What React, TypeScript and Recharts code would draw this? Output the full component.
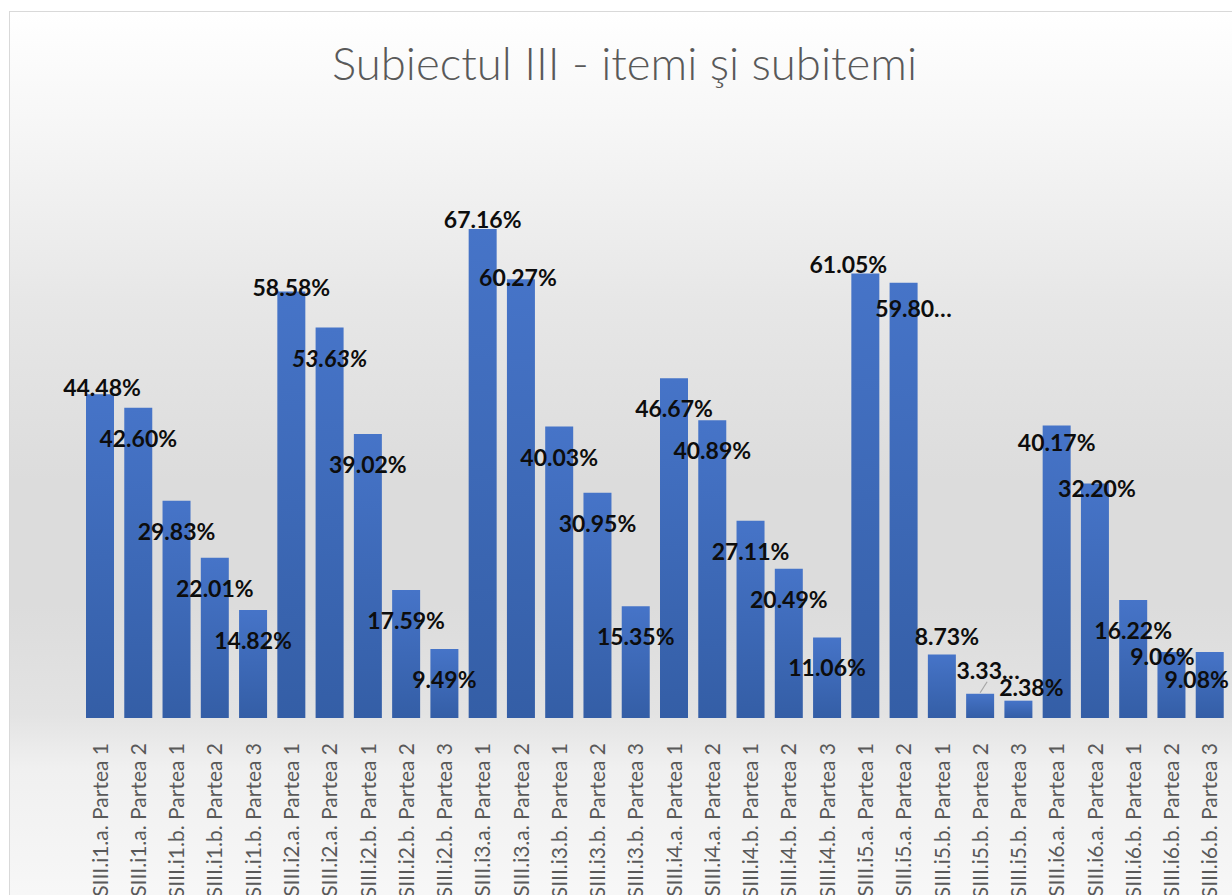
import React from "react";
import { BarChart, Bar, XAxis, YAxis, LabelList } from "recharts";

const categories = [
  "SIII.i1.a. Partea 1", "SIII.i1.a. Partea 2", "SIII.i1.b. Partea 1", "SIII.i1.b. Partea 2", "SIII.i1.b. Partea 3",
  "SIII.i2.a. Partea 1", "SIII.i2.a. Partea 2", "SIII.i2.b. Partea 1", "SIII.i2.b. Partea 2", "SIII.i2.b. Partea 3",
  "SIII.i3.a. Partea 1", "SIII.i3.a. Partea 2", "SIII.i3.b. Partea 1", "SIII.i3.b. Partea 2", "SIII.i3.b. Partea 3",
  "SIII.i4.a. Partea 1", "SIII.i4.a. Partea 2", "SIII.i4.b. Partea 1", "SIII.i4.b. Partea 2", "SIII.i4.b. Partea 3",
  "SIII.i5.a. Partea 1", "SIII.i5.a. Partea 2", "SIII.i5.b. Partea 1", "SIII.i5.b. Partea 2", "SIII.i5.b. Partea 3",
  "SIII.i6.a. Partea 1", "SIII.i6.a. Partea 2", "SIII.i6.b. Partea 1", "SIII.i6.b. Partea 2", "SIII.i6.b. Partea 3",
];

const values = [
  44.48, 42.6, 29.83, 22.01, 14.82,
  58.58, 53.63, 39.02, 17.59, 9.49,
  67.16, 60.27, 40.03, 30.95, 15.35,
  46.67, 40.89, 27.11, 20.49, 11.06,
  61.05, 59.8, 8.73, 3.33, 2.38,
  40.17, 32.2, 16.22, 9.06, 9.08,
];

const labelTexts = [
  "44.48%", "42.60%", "29.83%", "22.01%", "14.82%",
  "58.58%", "53.63%", "39.02%", "17.59%", "9.49%",
  "67.16%", "60.27%", "40.03%", "30.95%", "15.35%",
  "46.67%", "40.89%", "27.11%", "20.49%", "11.06%",
  "61.05%", "59.80…", "8.73%", "3.33…", "2.38%",
  "40.17%", "32.20%", "16.22%", "9.06%", "9.08%",
];

// label placement nudges (dx from bar centre, dy from bar top to text centre)
const labelNudges: [number, number][] = [
  [2, -7], [0, 30], [0, 30], [0, 30], [0, 30],
  [0, -5], [0, 30], [0, 30], [0, 30], [0, 30],
  [0, -10], [-3, -2], [0, 30], [0, 30], [0, 30],
  [0, 30], [0, 30], [0, 30], [0, 30], [0, 30],
  [-17, -10], [10, 25], [5, -18], [8, -24], [13, -14],
  [0, 16], [2, 4], [0, 30], [-9, 4], [-13, 27],
];

const italicLabels = [6];
const leaderLabels = [23];

const data = categories.map((name, i) => ({ name, value: values[i], label: labelTexts[i] }));

const TITLE = "Subiectul III - itemi şi subitemi";

const Tick = (props: any) => {
  const { x, y, payload } = props;
  return (
    <g transform={`translate(${x},${y + 17}) rotate(-90)`}>
      <text
        textAnchor="end"
        dy="0.36em"
        fill="#595959"
        fontFamily="Lato, 'Open Sans', sans-serif"
        fontSize={21}
      >
        {payload.value}
      </text>
    </g>
  );
};

const DataLabel = (props: any) => {
  const { x, y, width, index } = props;
  const cx = Number(x) + Number(width) / 2;
  const top = Number(y);
  const [dx, dy] = labelNudges[index];
  const lx = cx + dx;
  const ly = top + dy;
  return (
    <g>
      {leaderLabels.includes(index) && (
        <line x1={cx} y1={top - 1} x2={cx + 7} y2={top - 12} stroke="#a6a6a6" strokeWidth={1.2} />
      )}
      <text
        x={lx}
        y={ly}
        textAnchor="middle"
        dominantBaseline="central"
        fill="#0d0d0d"
        fontFamily="Lato, 'Open Sans', sans-serif"
        fontWeight={700}
        fontStyle={italicLabels.includes(index) ? "italic" : "normal"}
        fontSize={23}
      >
        {labelTexts[index]}
      </text>
    </g>
  );
};

export default function App() {
  return (
    <div
      style={{
        position: "fixed",
        left: 9,
        top: 11,
        width: 1250,
        height: 900,
        borderLeft: "1px solid #d9d9d9",
        borderTop: "1px solid #d9d9d9",
        background:
          "linear-gradient(to bottom, #ffffff 0%, #f6f6f6 13%, #e7e7e7 32%, #dcdcdc 52%, #dcdcdc 66%, #e3e3e3 78%, #f0f0f0 84%, #f8f8f8 100%)",
        overflow: "hidden",
      }}
    >
      <svg width={1240} height={110} style={{ position: "absolute", left: 0, top: 0 }}>
        <text
          x={614.5}
          y={68}
          textAnchor="middle"
          fill="#595959"
          fontFamily="Lato, 'Open Sans', sans-serif"
          fontWeight={300}
          fontSize={45.5}
        >
          {TITLE}
        </text>
      </svg>
      <div style={{ position: "absolute", left: 0, top: 0 }}>
        <BarChart
          width={1240}
          height={890}
          data={data}
          margin={{ top: 123.6, right: 21, bottom: 0, left: 71 }}
        >
          <defs>
            <linearGradient id="barGrad" x1="0" y1="0" x2="0" y2="1">
              <stop offset="0%" stopColor="#4674c8" />
              <stop offset="100%" stopColor="#345ea6" />
            </linearGradient>
          </defs>
          <XAxis
            dataKey="name"
            interval={0}
            axisLine={false}
            tickLine={false}
            height={184}
            tick={<Tick />}
          />
          <YAxis hide domain={[0, 80]} />
          <Bar dataKey="value" fill="url(#barGrad)" barSize={28} isAnimationActive={false}>
            <LabelList dataKey="label" content={<DataLabel />} />
          </Bar>
        </BarChart>
      </div>
    </div>
  );
}
